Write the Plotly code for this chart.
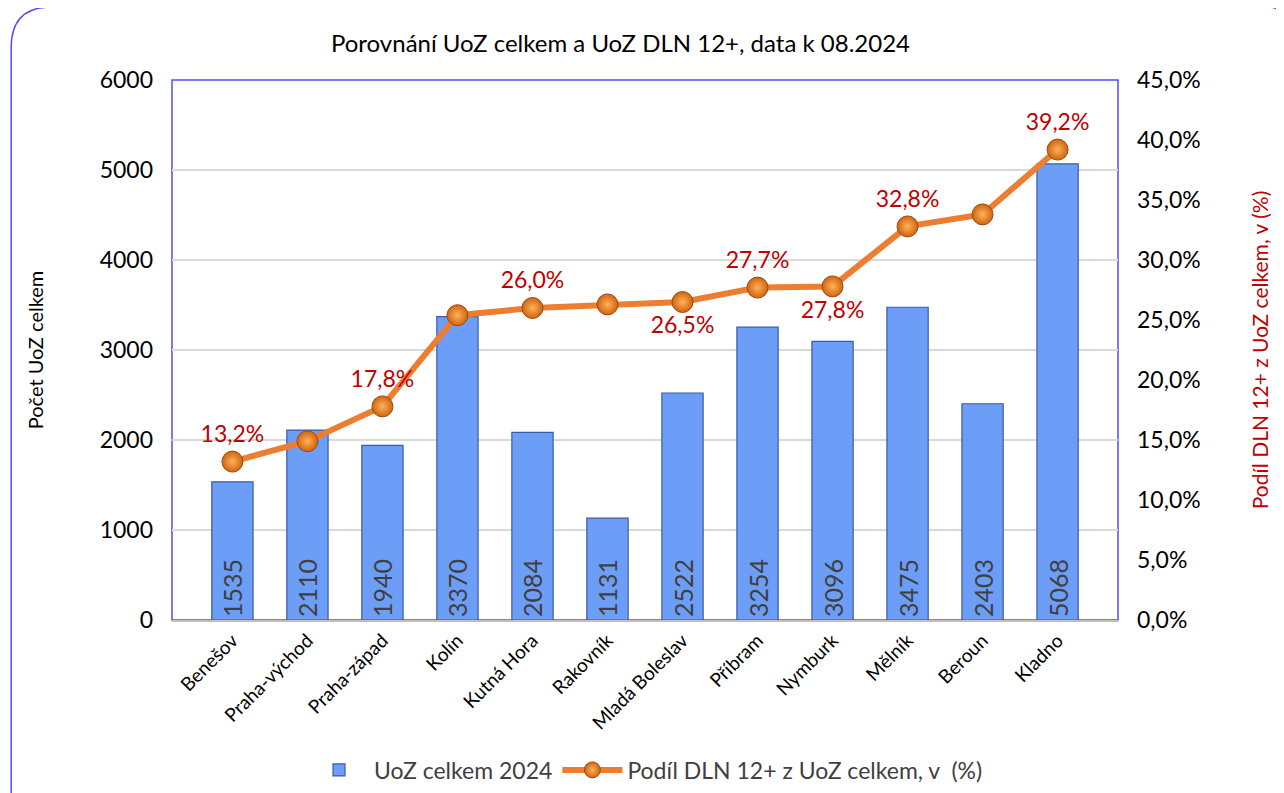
import plotly.graph_objects as go

# data
okresy = ['Benešov', 'Praha-východ', 'Praha-západ', 'Kolín', 'Kutná Hora', 'Rakovník',
          'Mladá Boleslav', 'Příbram', 'Nymburk', 'Mělník', 'Beroun', 'Kladno']
uoz_celkem = [1535, 2110, 1940, 3370, 2084, 1131, 2522, 3254, 3096, 3475, 2403, 5068]
podil_dln = [13.2, 14.9, 17.8, 25.4, 26.0, 26.3, 26.5, 27.7, 27.8, 32.8, 33.8, 39.2]
show_label = [True, False, True, False, True, False, True, True, True, True, False, True]
label_pos = ['top center'] * 6 + ['bottom center', 'top center', 'bottom center'] + ['top center'] * 3

font = 'Lato'

bars = go.Bar(
    x=okresy, y=uoz_celkem,
    name='UoZ celkem 2024',
    width=0.55,
    marker=dict(color='#6C9EF7', line=dict(color='#3A5BA8', width=1.2)),
    text=[str(v) for v in uoz_celkem],
    textposition='inside',
    insidetextanchor='start',
    textangle=-90,
    textfont=dict(size=25, color='#404040', family=font),
    cliponaxis=False,
)

line = go.Scatter(
    x=okresy, y=[p / 100 for p in podil_dln],
    name='Podíl DLN 12+ z UoZ celkem, v  (%)',
    yaxis='y2',
    mode='lines+markers+text',
    line=dict(color='#ED7D31', width=6),
    marker=dict(size=21, color='#D0640F',
                gradient=dict(type='radial', color='#FFB25A'),
                line=dict(color='#9A4A12', width=1)),
    text=[(f'{p:.1f}%'.replace('.', ',') if s else '') for p, s in zip(podil_dln, show_label)],
    textposition=label_pos,
    textfont=dict(size=23, color='#C00000', family=font),
    cliponaxis=False,
)

fig = go.Figure([bars, line])

fig.update_layout(
    width=1276, height=785,
    margin=dict(l=164, r=166, t=72, b=173),
    paper_bgcolor='white', plot_bgcolor='white',
    separators=', ',
    font=dict(family=font, size=20, color='black'),
    title=dict(text='Porovnání UoZ celkem a UoZ DLN 12+, data k 08.2024',
               x=0.48, xanchor='center', y=0.955, yanchor='middle',
               font=dict(size=24, family=font)),
    bargap=0.45,
    showlegend=True,
    legend=dict(orientation='h', x=0.5, xanchor='center', xref='container',
                y=0.002, yanchor='bottom', yref='container',
                font=dict(size=23, color='#404040', family=font), itemwidth=60),
    xaxis=dict(tickangle=-45, tickfont=dict(size=19), showline=True, linecolor='#BFBFBF',
               linewidth=2, ticks='', showgrid=False, automargin=False),
    yaxis=dict(range=[0, 6000], dtick=1000, tickformat='d', showgrid=True,
               gridcolor='#D9D9D9', gridwidth=1.5, zeroline=False, automargin=False,
               tickfont=dict(size=23), ticklabelstandoff=18,
               title=dict(text='Počet UoZ celkem', font=dict(size=20), standoff=50),
               ticks='', ticklen=0),
    yaxis2=dict(range=[0, 0.45], dtick=0.05, tickformat='.1%', overlaying='y', side='right',
                showgrid=False, zeroline=False, ticks='', automargin=False,
                tickfont=dict(size=23), ticklabelstandoff=18,
                title=dict(text='Podíl DLN 12+ z UoZ celkem, v (%)',
                           font=dict(size=21, color='#C00000'), standoff=53)),
    shapes=[
        # plot area border
        dict(type='rect', xref='paper', yref='paper', x0=0, x1=1, y0=0, y1=1,
             line=dict(color='#4D4DFF', width=1.5), layer='below'),
        # rounded outer frame
        dict(type='path', xref='paper', yref='paper',
             path='M -0.17,-0.4 L -0.17,1.06 Q -0.17,1.135 -0.128,1.135 '
                  'L 1.16,1.135 Q 1.175,1.135 1.175,1.1 L 1.175,-0.4',
             line=dict(color='#4D4DFF', width=1.5)),
    ],
)

fig.write_html('out.html')
